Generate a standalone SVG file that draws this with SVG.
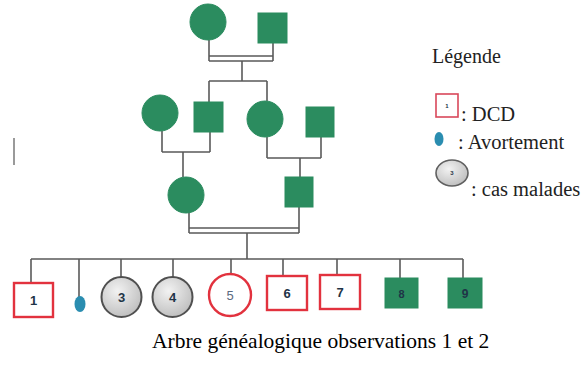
<svg xmlns="http://www.w3.org/2000/svg" width="584" height="367" viewBox="0 0 584 367">
<defs>
<radialGradient id="grey" cx="0.4" cy="0.35" r="0.7">
<stop offset="0" stop-color="#f2f2f2"/>
<stop offset="1" stop-color="#bdbdbd"/>
</radialGradient>
</defs>
<style>
.ln{stroke:#5a5a5a;stroke-width:1.6;fill:none}
.g{fill:#2b8c5f;stroke:#2b8c5f;stroke-width:1}
.dcd{fill:#fff;stroke:#e2323e;stroke-width:2.4}
.sick{fill:url(#grey);stroke:#505050;stroke-width:2}
.num{font-family:"Liberation Sans",Arial,sans-serif;font-size:13px;font-weight:bold;fill:#1f3447;text-anchor:middle}
.sm{font-family:"Liberation Sans",Arial,sans-serif;font-size:6px;font-weight:bold;fill:#1f3447;text-anchor:middle}
.lg{font-family:"Liberation Serif","Times New Roman",serif;font-size:20.5px;fill:#222}
.cap{font-family:"Liberation Serif","Times New Roman",serif;font-size:21.5px;fill:#000}
</style>
<rect width="584" height="367" fill="#fff"/>
<g id="connectors">
<path class="ln" d="M209,40V61M273,43V61M209,56H273M209,61H273M242,61V81M209,81H267M209,81V102M267,81V101"/>
<path class="ln" d="M162,131V152M210,132V152M162,152H210M183,152V177"/>
<path class="ln" d="M267,137V158M321,137V158M267,158H321M300,158V177"/>
<path class="ln" d="M189,212V233M299,207V233M189,228H299M189,233H299M247,233V259"/>
<path class="ln" d="M31,259H463M31,259V283M79,259V297M121,259V277M173,259V277M231,259V274M283,259V276M337,259V275M400,259V278M463,259V278"/>
<line x1="14" y1="138" x2="14" y2="165" stroke="#9a9a9a" stroke-width="2"/>
</g>
<g id="gen1-mother"><circle class="g" cx="208" cy="22" r="18"/></g>
<g id="gen1-father"><rect class="g" x="258" y="13" width="29" height="30"/></g>
<g id="gen2-left-mother"><circle class="g" cx="160" cy="113" r="18"/></g>
<g id="gen2-left-father"><rect class="g" x="194" y="102" width="29" height="30"/></g>
<g id="gen2-right-mother"><circle class="g" cx="265" cy="119" r="18"/></g>
<g id="gen2-right-father"><rect class="g" x="306" y="107" width="28" height="30"/></g>
<g id="gen3-mother"><circle class="g" cx="186" cy="195" r="18"/></g>
<g id="gen3-father"><rect class="g" x="285" y="177" width="28" height="30"/></g>
<g id="child1"><rect class="dcd" x="14" y="283" width="39" height="34"/><text class="num" x="33.5" y="305">1</text></g>
<g id="child2"><ellipse cx="80" cy="304" rx="5.5" ry="8" fill="#2a8db0"/></g>
<g id="child3"><circle class="sick" cx="121.5" cy="297" r="20"/><text class="num" x="121.5" y="302">3</text></g>
<g id="child4"><circle class="sick" cx="172.5" cy="297" r="20"/><text class="num" x="172.5" y="302">4</text></g>
<g id="child5"><circle cx="230" cy="295" r="21" fill="#fff" stroke="#e2323e" stroke-width="2.4"/><text class="num" x="230" y="300" style="fill:#5a6a80;font-weight:normal">5</text></g>
<g id="child6"><rect class="dcd" x="267" y="276" width="40" height="34"/><text class="num" x="287" y="298">6</text></g>
<g id="child7"><rect class="dcd" x="320" y="275" width="40" height="34"/><text class="num" x="340" y="297">7</text></g>
<g id="child8"><rect class="g" x="385" y="278" width="33" height="30"/><text class="num" x="401.5" y="298" style="font-size:11px">8</text></g>
<g id="child9"><rect class="g" x="448" y="278" width="34" height="30"/><text class="num" x="465" y="298" style="font-size:12px">9</text></g>
<g id="legend">
<text class="lg" x="432" y="63" style="font-size:20px">Légende</text>
<rect x="436" y="94" width="22" height="23" fill="#fff" stroke="#d9485a" stroke-width="1.6"/>
<text class="sm" x="447" y="108">1</text>
<text class="lg" x="461" y="121">: DCD</text>
<ellipse cx="439" cy="139" rx="4.5" ry="7" fill="#2a8db0"/>
<text class="lg" x="458" y="149">: Avortement</text>
<ellipse cx="452" cy="173" rx="16" ry="13" fill="url(#grey)" stroke="#606060" stroke-width="1.6"/>
<text class="sm" x="452" y="175">3</text>
<text class="lg" x="471" y="196">: cas malades</text>
</g>
<text class="cap" x="152" y="348">Arbre généalogique observations 1 et 2</text>
</svg>
